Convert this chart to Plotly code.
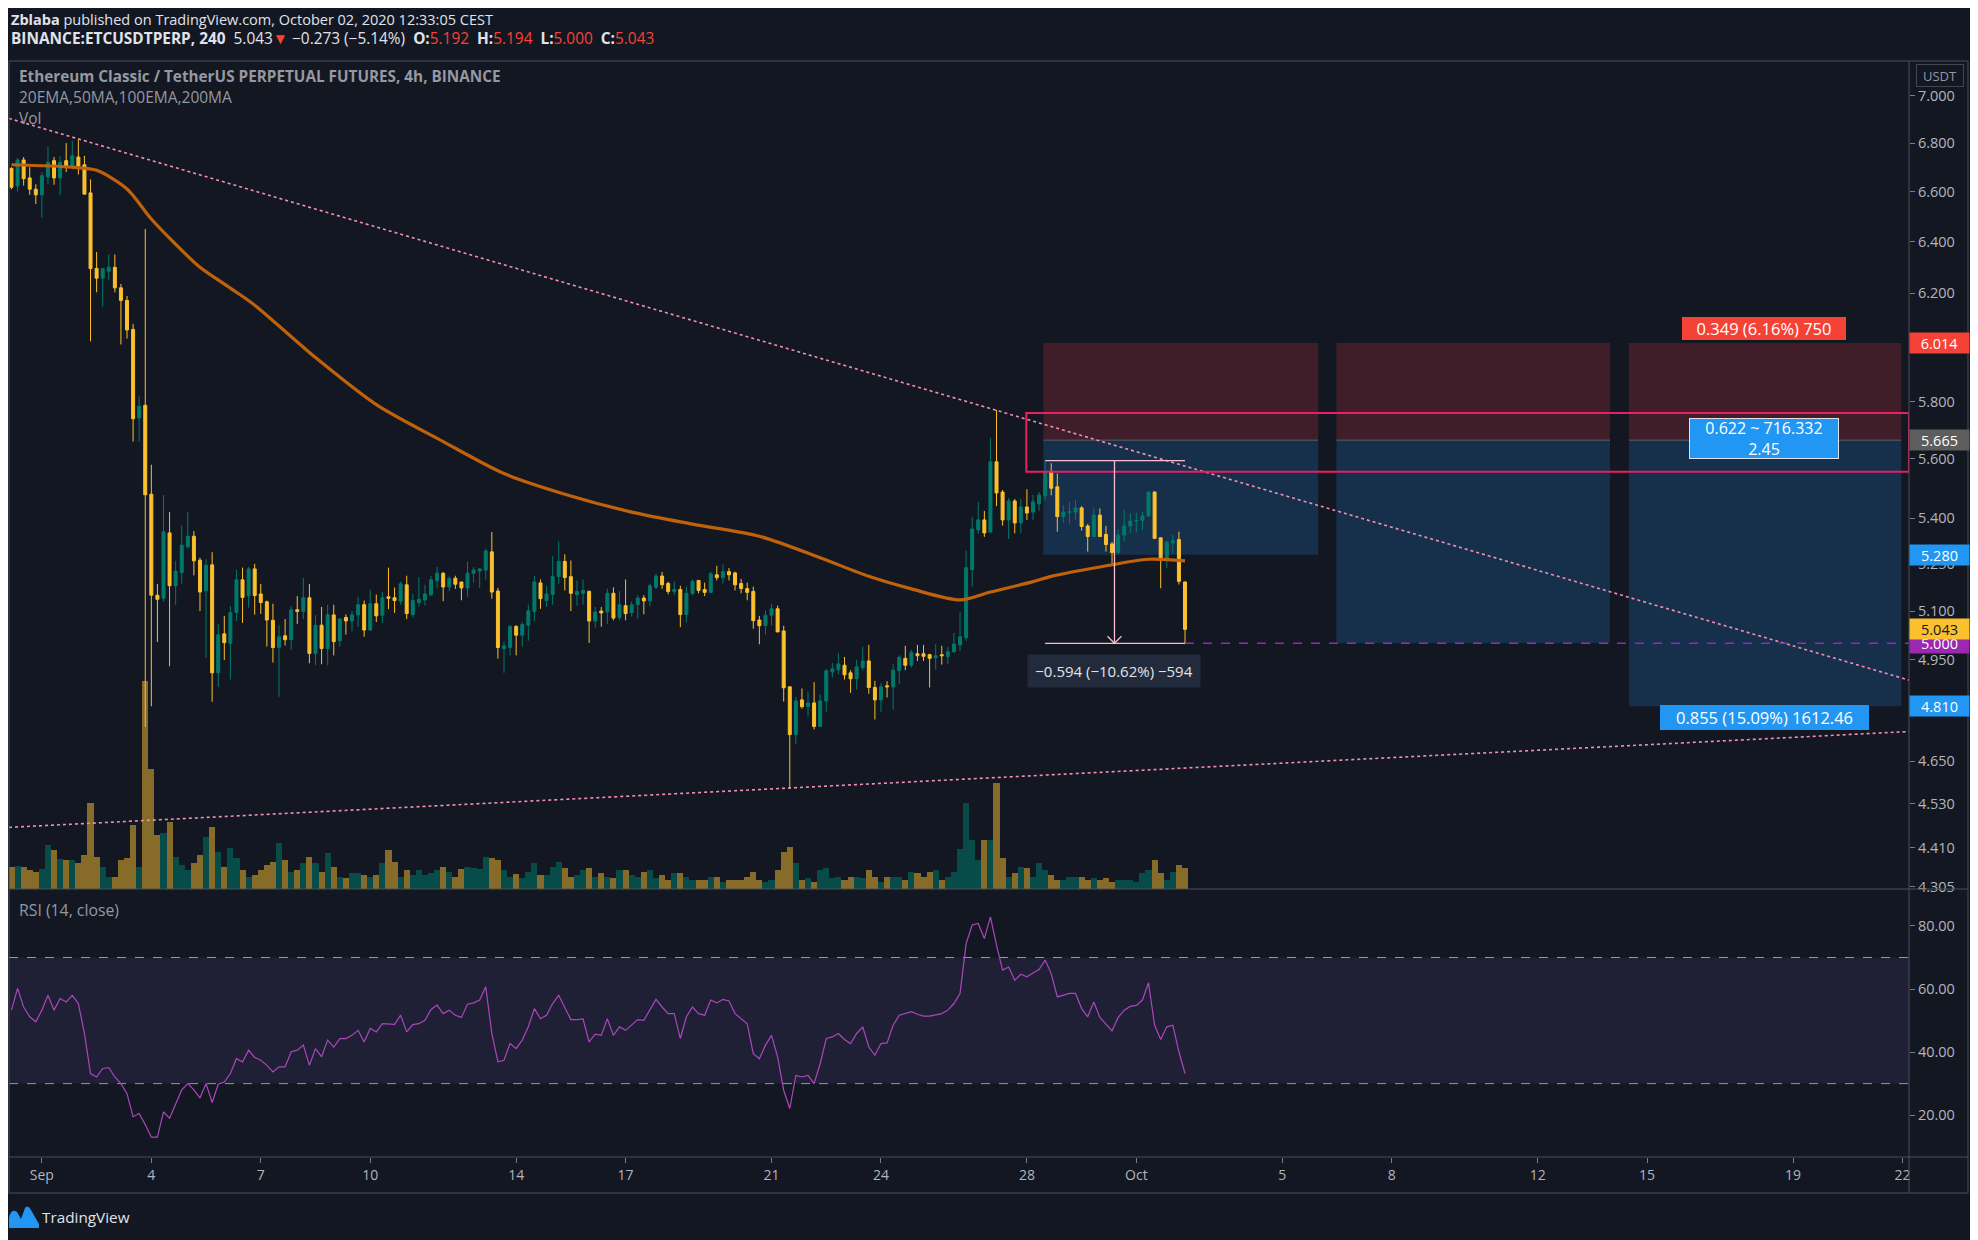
import numpy as np
import pandas as pd
import plotly.graph_objects as go

# ---------------- data ----------------
opens = [6.695,6.623,6.730,6.656,6.610,6.587,6.660,6.727,6.656,6.727,
6.700,6.742,6.710,6.595,6.296,6.258,6.285,6.300,6.221,6.173,
6.064,5.743,5.788,5.480,5.150,5.140,5.351,5.180,5.222,5.306,
5.340,5.262,5.164,5.247,4.910,5.029,5.000,5.096,5.199,5.148,
5.234,5.154,5.129,5.071,4.987,5.023,5.011,5.104,5.099,5.142,
4.969,5.056,4.984,5.088,5.008,5.080,5.069,5.088,5.120,5.041,
5.123,5.087,5.145,5.142,5.131,5.183,5.089,5.127,5.135,5.151,
5.196,5.220,5.176,5.204,5.192,5.173,5.220,5.227,5.230,5.289,
5.163,4.984,4.987,5.052,5.025,5.056,5.099,5.189,5.133,5.152,
5.209,5.258,5.209,5.152,5.156,5.162,5.069,5.100,5.097,5.156,
5.080,5.117,5.095,5.120,5.141,5.132,5.175,5.211,5.187,5.162,
5.168,5.089,5.156,5.197,5.168,5.159,5.215,5.206,5.225,5.221,
5.187,5.171,5.162,5.072,5.055,5.087,5.107,5.038,4.868,4.727,
4.829,4.809,4.820,4.751,4.826,4.913,4.919,4.933,4.910,4.892,
4.926,4.946,4.866,4.829,4.871,4.868,4.916,4.954,4.933,4.968,
4.968,4.965,4.956,4.965,4.959,4.974,4.995,5.017,5.232,5.361,
5.394,5.354,5.590,5.487,5.394,5.457,5.384,5.437,5.420,5.447,
5.474,5.556,5.505,5.405,5.419,5.420,5.434,5.374,5.339,5.410,
5.346,5.315,5.287,5.344,5.374,5.390,5.392,5.407,5.487,5.335,
5.263,5.318,5.329,5.192]
highs = [6.70,6.738,6.742,6.70,6.63,6.68,6.785,6.742,6.745,6.80,
6.81,6.815,6.747,6.65,6.36,6.295,6.35,6.35,6.236,6.19,
6.085,5.82,6.45,5.58,5.186,5.477,5.42,5.26,5.375,5.421,
5.357,5.27,5.265,5.288,5.06,5.085,5.116,5.231,5.238,5.24,
5.25,5.186,5.133,5.123,5.056,5.075,5.115,5.147,5.205,5.186,
5.087,5.113,5.12,5.12,5.078,5.09,5.10,5.145,5.133,5.167,
5.152,5.16,5.238,5.174,5.193,5.212,5.155,5.208,5.183,5.212,
5.24,5.224,5.21,5.212,5.192,5.257,5.24,5.237,5.299,5.354,
5.173,5.005,5.056,5.056,5.065,5.12,5.212,5.20,5.18,5.275,
5.323,5.281,5.261,5.197,5.20,5.165,5.113,5.113,5.171,5.175,
5.163,5.20,5.13,5.15,5.15,5.187,5.218,5.224,5.193,5.193,
5.18,5.177,5.20,5.197,5.19,5.225,5.244,5.248,5.237,5.225,
5.202,5.19,5.177,5.085,5.102,5.123,5.117,5.054,4.868,4.838,
4.863,4.853,4.882,4.846,4.922,4.94,4.969,4.958,4.918,4.95,
4.989,4.995,4.886,4.879,4.885,4.937,4.963,4.992,4.98,4.995,
4.995,4.968,4.998,4.992,4.989,5.032,5.097,5.293,5.404,5.454,
5.424,5.673,5.771,5.494,5.467,5.464,5.464,5.497,5.477,5.487,
5.597,5.585,5.55,5.443,5.454,5.46,5.44,5.38,5.432,5.432,
5.374,5.322,5.363,5.427,5.416,5.418,5.42,5.487,5.49,5.335,
5.326,5.344,5.355,5.194]
lows = [6.61,6.60,6.625,6.587,6.55,6.495,6.63,6.628,6.586,6.68,
6.69,6.67,6.59,6.02,6.204,6.15,6.25,6.204,6.008,6.03,
5.66,5.66,4.75,4.81,5.004,5.13,4.93,5.12,5.187,5.30,
5.213,5.10,4.955,4.823,4.868,4.949,4.89,5.069,5.063,5.111,
5.089,5.091,4.99,4.941,4.838,4.993,4.98,5.06,5.075,4.939,
4.933,4.936,4.933,4.963,4.99,5.027,5.037,5.051,5.02,5.038,
5.066,5.063,5.106,5.094,5.12,5.075,5.08,5.115,5.117,5.149,
5.172,5.131,5.163,5.17,5.134,5.145,5.19,5.173,5.20,5.139,
4.953,4.91,4.963,4.963,4.99,5.008,5.069,5.107,5.113,5.12,
5.186,5.165,5.10,5.117,5.12,5.001,5.048,5.051,5.06,5.071,
5.071,5.071,5.083,5.075,5.09,5.115,5.169,5.17,5.153,5.15,
5.05,5.065,5.15,5.156,5.147,5.156,5.197,5.187,5.197,5.165,
5.156,5.134,5.045,4.997,5.027,5.055,5.035,4.824,4.572,4.70,
4.803,4.78,4.742,4.751,4.794,4.896,4.905,4.89,4.85,4.86,
4.918,4.847,4.771,4.794,4.836,4.80,4.876,4.918,4.926,4.946,
4.946,4.866,4.92,4.935,4.937,4.971,4.976,5.008,5.177,5.348,
5.338,5.351,5.44,5.375,5.331,5.35,5.35,5.394,5.394,5.424,
5.46,5.476,5.355,5.386,5.382,5.394,5.359,5.29,5.339,5.339,
5.29,5.25,5.28,5.322,5.35,5.353,5.36,5.405,5.333,5.172,
5.237,5.284,5.184,5.000]
closes = [6.618,6.730,6.653,6.610,6.587,6.665,6.720,6.656,6.720,6.700,
6.747,6.705,6.590,6.295,6.258,6.295,6.300,6.221,6.173,6.062,
5.740,5.784,5.478,5.150,5.137,5.355,5.180,5.226,5.311,5.340,
5.260,5.160,5.246,4.910,5.026,5.002,5.095,5.199,5.143,5.234,
5.149,5.127,5.072,4.987,5.020,5.011,5.104,5.099,5.142,4.969,
5.056,4.984,5.088,5.005,5.075,5.069,5.088,5.120,5.041,5.123,
5.085,5.142,5.140,5.133,5.186,5.092,5.133,5.137,5.154,5.199,
5.220,5.176,5.204,5.185,5.173,5.220,5.230,5.234,5.292,5.160,
4.987,4.992,5.052,5.025,5.058,5.101,5.192,5.139,5.154,5.209,
5.258,5.206,5.156,5.162,5.165,5.069,5.097,5.094,5.156,5.078,
5.120,5.092,5.120,5.141,5.132,5.180,5.211,5.183,5.162,5.168,
5.089,5.156,5.194,5.165,5.159,5.218,5.206,5.225,5.215,5.183,
5.171,5.159,5.070,5.054,5.087,5.107,5.035,4.865,4.727,4.826,
4.809,4.820,4.751,4.826,4.916,4.922,4.937,4.904,4.892,4.928,
4.946,4.866,4.829,4.868,4.868,4.918,4.957,4.933,4.971,4.962,
4.960,4.954,4.962,4.962,4.974,4.998,5.020,5.238,5.364,5.394,
5.351,5.590,5.484,5.394,5.457,5.384,5.437,5.417,5.454,5.477,
5.555,5.500,5.405,5.420,5.421,5.434,5.372,5.339,5.410,5.339,
5.313,5.287,5.344,5.374,5.390,5.392,5.407,5.487,5.333,5.263,
5.320,5.326,5.194,5.043]
volumes = [21.7,23,21.7,19,17.3,19.7,44,39,29.7,29,
29,25.7,34,86.3,32.3,22.3,11.7,11.7,29,30.7,
64,22.3,208,120,54,55.7,67.3,32.3,24,19,
25.7,34,52.3,62.3,37.3,22.3,40.7,30.7,19,12.3,
14,19,24,27.3,46.3,29,17.3,19,25.7,32.3,
25.7,17.3,35.7,22.3,11.7,10.7,15.7,16.3,14,11.7,
14,25.7,39,27.3,12.3,19,14,19,14,15.7,
19,22.3,17.3,12.3,19.7,21.7,20.7,19.7,32.3,30.7,
29,19,12.3,15,10.7,17.3,25.7,14,14,22.3,
27.3,20.7,12.3,14,19,20.7,12.3,15.7,12.3,10.7,
19,19,14,12.3,17.3,19,10.7,14,9,15.7,
15.7,12.3,9,9,9,12.3,12.3,7.3,9,9,
9,12.3,17.3,9,7.3,9,19,37.3,42.3,25.7,
9,10.7,7.3,19,20.7,10.7,12.3,9,12.3,12.3,
10.7,19,12.3,7.3,12.3,12.3,12.3,9,17.3,15.7,
12.3,17.3,19,9,12.3,17.3,40,85.7,49,29,
49,49,106.3,30.7,12.3,15.7,22.3,20.7,12.3,25.7,
19,14,9,9,12.3,12.3,12.3,9,10.7,9,
10.7,7.3,9,9,9,7.3,15.7,19,29,15.7,
9,17.3,24,20.7]
rsi = [53.3,60.2,54.3,51.2,49.6,53.3,58,53.3,57,55.9,
58,55.4,45.9,33.2,32.1,34.8,35.1,32.1,30,26.8,
19.5,20.5,17,13,13,21,19,23.5,28,30,
28,25.5,30,24,29.8,30.5,33.2,37.9,36.9,40.6,
38.3,37.4,35.8,33.7,35.3,35.3,40.1,40.6,42.2,35.8,
41.1,38.5,43.8,41.6,44.3,44.3,45.3,46.9,43.2,47.5,
46.4,49,49,48.8,51.7,46.4,48.7,49,50.1,53.5,
54.9,52.2,53.3,51.7,51,55.2,55.6,56.5,60.7,45.9,
36.9,37.4,42.7,41.1,43.8,48,53.8,50.6,51.7,55.4,
58,54.3,50.3,50.3,50.5,43.2,45.7,45.3,50.6,45.3,
48,46.9,48.5,50.3,50.1,53.5,56.7,54.3,52.2,52.2,
44.3,51.2,54.3,52.2,51.7,56.5,55.6,56.7,56.2,52.2,
50.6,49,39.5,37.9,42.2,45.3,38.5,27.9,22.1,32.6,
32.1,32.6,30,36.3,44.3,44.8,45.9,44,42.7,45.9,
48,41.6,39,42.7,42.9,48.5,51.7,52.2,52.8,52,
51.4,51.4,51.7,52.2,53.3,55.4,58.6,74.4,80.3,80.8,
76,82.9,73.9,66,67,62.8,64.7,63.9,65.1,66.2,
69.2,64.9,57.5,58,58.6,58.6,53.8,51.2,55.9,51,
49,46.7,51,53.3,54.5,54.8,56.5,62,48.5,44,
48,48.5,40.1,33.2]
ema_idx = [0,10,14,19,23,27,31,36,40,50,60,71,81,91,102,112,123,133,141,148,156,161,168,171,179,187,193]
ema_vals = [6.71,6.70,6.687,6.611,6.49,6.39,6.30,6.22,6.155,5.96,5.79,5.66,5.55,5.48,5.42,5.38,5.34,5.27,5.21,5.17,5.135,5.16,5.193,5.21,5.24,5.265,5.26]

first_bar = "2020-08-31 04:00"
x_range = ["2020-08-31 02:22", "2020-10-22 04:17"]
price_range = [4.299, 7.152]
rsi_range = [6.72, 91.73]
vol_range = [0, 828]

x_tick_dates = ["2020-09-01","2020-09-04","2020-09-07","2020-09-10","2020-09-14","2020-09-17",
                "2020-09-21","2020-09-24","2020-09-28","2020-10-01","2020-10-05","2020-10-08",
                "2020-10-12","2020-10-15","2020-10-19","2020-10-22"]
x_tick_text = ["Sep","4","7","10","14","17","21","24","28","Oct","5","8","12","15","19","22"]
price_ticks = [7.0, 6.8, 6.6, 6.4, 6.2, 5.8, 5.6, 5.4, 5.25, 5.1, 4.95, 4.65, 4.53, 4.41, 4.305]
rsi_ticks = [20, 40, 60, 80]

# drawings (time, price)
trend_down_t = ["2020-08-31 02:22", "2020-10-22 04:17"]
trend_down_p = [6.904, 4.888]
trend_up_t = ["2020-08-31 02:22", "2020-10-22 04:17"]
trend_up_p = [4.465, 4.736]
pos_left = ["2020-09-28 10:48", "2020-10-06 11:36", "2020-10-14 12:00"]
pos_right = ["2020-10-05 23:36", "2020-10-13 23:36", "2020-10-21 23:12"]
pos_entry = 5.665
pos_stop = 6.014
pos_targets = [5.280, 5.000, 4.810]
zone_t = ["2020-09-27 23:36", "2020-10-22 04:17"]
zone_p = [5.556, 5.760]
meas_t = ["2020-09-28 12:00", "2020-10-02 08:00"]
meas_mid_t = "2020-09-30 09:36"
meas_p = [5.594, 5.000]
label_t = "2020-10-18 05:12"

# ---------------- style / geometry (screen pixels) ----------------
BG = "#131722"
UP = "#00796b"
DOWN = "#fbc02d"
GRID = "#4a4e59"
TXT = "#b2b5be"
FONT = "Open Sans"
OFF = 8                       # default page margin around the plot div
SW, SH = 1978, 1240           # screen size
W, H = SW - OFF, SH - OFF     # figure size
PL, PR, PT, PB = 9, 1909, 61, 1157   # plot box in screen pixels
ML, MR, MT, MB = PL - OFF, W - (PR - OFF), PT - OFF, H - (PB - OFF)
PW, PH = PR - PL, PB - PT
SPLIT = 889  # screen row of the pane separator

def px_x(px):
    return (px - PL) / PW

def px_y(py):
    return (PB - py) / PH

lg = np.log10
times = pd.date_range(first_bar, periods=len(closes), freq="4h")
is_up = [c >= o for o, c in zip(opens, closes)]

fig = go.Figure()

fig.add_trace(go.Bar(
    x=times, y=volumes, xaxis="x", yaxis="y",
    marker=dict(color=["rgba(0,121,107,0.55)" if u else "rgba(251,192,45,0.5)" for u in is_up],
                line=dict(width=0)),
    width=4 * 3600 * 1000, showlegend=False, hoverinfo="skip"))

fig.add_trace(go.Candlestick(
    x=times, open=opens, high=highs, low=lows, close=closes, xaxis="x", yaxis="y3",
    increasing=dict(line=dict(color=UP, width=1), fillcolor=UP),
    decreasing=dict(line=dict(color=DOWN, width=1), fillcolor=DOWN),
    whiskerwidth=0, showlegend=False, hoverinfo="skip"))

fig.add_trace(go.Scatter(
    x=times[ema_idx], y=ema_vals, mode="lines", xaxis="x", yaxis="y3",
    line=dict(color="#c0620c", width=3.2, shape="spline", smoothing=0.8),
    showlegend=False, hoverinfo="skip"))

for tt, pp in [(trend_down_t, trend_down_p), (trend_up_t, trend_up_p)]:
    fig.add_trace(go.Scatter(
        x=tt, y=pp, mode="lines", xaxis="x", yaxis="y3",
        line=dict(color="#f48fb1", width=1.6, dash="dot"),
        showlegend=False, hoverinfo="skip"))

fig.add_trace(go.Scatter(
    x=times, y=rsi, mode="lines", xaxis="x", yaxis="y2",
    line=dict(color="#ab47bc", width=1.2), showlegend=False, hoverinfo="skip"))

shapes = []
for x0, x1, tg in zip(pos_left, pos_right, pos_targets):
    shapes.append(dict(type="rect", xref="x", yref="y3", x0=x0, x1=x1,
                       y0=pos_entry, y1=pos_stop, fillcolor="rgba(242,54,69,0.2)",
                       line=dict(width=0), layer="below"))
    shapes.append(dict(type="rect", xref="x", yref="y3", x0=x0, x1=x1,
                       y0=tg, y1=pos_entry, fillcolor="rgba(33,150,243,0.2)",
                       line=dict(width=0), layer="below"))
    shapes.append(dict(type="line", xref="x", yref="y3", x0=x0, x1=x1,
                       y0=pos_entry, y1=pos_entry, line=dict(color="#5d606b", width=1),
                       layer="below"))
shapes.append(dict(type="rect", xref="x", yref="y3", x0=zone_t[0], x1=zone_t[1],
                   y0=zone_p[0], y1=zone_p[1], line=dict(color="#e91e63", width=2),
                   fillcolor="rgba(0,0,0,0)", layer="above"))
for p in meas_p:
    shapes.append(dict(type="line", xref="x", yref="y3", x0=meas_t[0], x1=meas_t[1],
                       y0=p, y1=p, line=dict(color="#f8bbd0", width=1.3), layer="above"))
shapes.append(dict(type="line", xref="x", yref="y3", x0=meas_mid_t, x1=meas_mid_t,
                   y0=meas_p[0], y1=meas_p[1], line=dict(color="#f8bbd0", width=1.3),
                   layer="above"))
shapes.append(dict(type="path", xref="x", yref="y3", xsizemode="pixel", ysizemode="pixel",
                   xanchor=meas_mid_t, yanchor=meas_p[1],
                   path="M -7,7 L 0,0 L 7,7", line=dict(color="#f8bbd0", width=1.3), layer="above"))
shapes.append(dict(type="line", xref="x", yref="y3", x0=meas_t[1], x1=x_range[1],
                   y0=meas_p[1], y1=meas_p[1], line=dict(color="#9c27b0", width=1.6, dash="dash"),
                   layer="above"))
shapes.append(dict(type="rect", xref="paper", yref="y2", x0=0, x1=1, y0=30, y1=70,
                   fillcolor="rgba(126,87,194,0.12)", line=dict(width=0), layer="below"))
for lv in (30, 70):
    shapes.append(dict(type="line", xref="paper", yref="y2", x0=0, x1=1, y0=lv, y1=lv,
                       line=dict(color="#9598a1", width=1, dash="dash"), layer="below"))

def hline(py, x0=PL, x1=1968):
    return dict(type="line", xref="paper", yref="paper", x0=px_x(x0), x1=px_x(x1),
                y0=px_y(py), y1=px_y(py), line=dict(color=GRID, width=1), layer="above")

def vline(px, y0=PT, y1=1193):
    return dict(type="line", xref="paper", yref="paper", x0=px_x(px), x1=px_x(px),
                y0=px_y(y0), y1=px_y(y1), line=dict(color=GRID, width=1), layer="above")

shapes += [hline(PT), hline(SPLIT), hline(PB), hline(1193),
           vline(PL), vline(PR), vline(1968)]
shapes.append(dict(type="path", xref="paper", yref="paper", xsizemode="pixel", ysizemode="pixel",
                   xanchor=px_x(9), yanchor=px_y(1228),
                   path="M0,0 L0,10 Q2,20 8,16 L12,9 L16,20 Q19,24 22,18 L30,4 L30,0 Z",
                   fillcolor="#2196f3", line=dict(width=0)))

ann = []
def txt(px, py, text, size=14, color=TXT, xanchor="left"):
    ann.append(dict(xref="paper", yref="paper", x=px_x(px), y=px_y(py), text=text,
                    showarrow=False, xanchor=xanchor, yanchor="middle",
                    font=dict(family=FONT, size=size, color=color)))

RED = "#f44336"
txt(9, 19, "<b>Zblaba</b> published on TradingView.com, October 02, 2020 12:33:05 CEST",
    size=14.5, color="#e0e3eb")
txt(9, 39, "<b>BINANCE:ETCUSDTPERP, 240</b>  5.043<span style='color:%s'>▼</span> −0.273 (−5.14%%)  "
           "<b>O:</b><span style='color:%s'>5.192</span>  <b>H:</b><span style='color:%s'>5.194</span>  "
           "<b>L:</b><span style='color:%s'>5.000</span>  <b>C:</b><span style='color:%s'>5.043</span>"
           % (RED, RED, RED, RED, RED), size=15.4, color="#e0e3eb")
txt(17, 76, "<b>Ethereum Classic / TetherUS PERPETUAL FUTURES, 4h, BINANCE</b>", size=15.3, color="#9598a1")
txt(17, 97, "20EMA,50MA,100EMA,200MA", size=15.5, color="#9598a1")
txt(17, 118, "Vol", size=15.5, color="#9598a1")
txt(17, 910, "RSI (14, close)", size=15.8, color="#9598a1")
txt(40, 1217, "TradingView", size=15.3, color="#e0e3eb")

def box_label(t, price, text, bg, w, h, border=None, size=16.5):
    ann.append(dict(xref="x", yref="y3", x=t, y=lg(price), text=text, showarrow=False,
                    xanchor="center", yanchor="middle", width=w, height=h,
                    bgcolor=bg, bordercolor=border or bg, borderwidth=1, borderpad=0,
                    font=dict(family=FONT, size=size, color="#ffffff")))

box_label(label_t, 6.068, "0.349 (6.16%) 750", RED, 162, 21)
box_label(label_t, 5.670, "0.622 ~ 716.332<br>2.45", "#2196f3", 148, 39, border="#e0e3eb", size=16)
box_label(label_t, 4.776, "0.855 (15.09%) 1612.46", "#2196f3", 207, 23)
ann.append(dict(xref="x", yref="y3", x=meas_mid_t, y=lg(4.917), text="−0.594 (−10.62%) −594",
                showarrow=False, xanchor="center", yanchor="middle", width=170, height=30,
                bgcolor="#212b3b", font=dict(family=FONT, size=15, color="#e0e3eb")))

axis_tags = [(6.014, RED, "#ffffff"), (5.665, "#5d5d5d", "#ffffff"), (5.280, "#2196f3", "#ffffff"),
             (5.000, "#9c27b0", "#ffffff"), (5.043, "#fbc02d", "#131722"), (4.810, "#2196f3", "#ffffff")]
for p, bg, fc in axis_tags:
    ann.append(dict(xref="paper", yref="y3", x=1, y=lg(p), text="%.3f" % p, showarrow=False,
                    xanchor="left", yanchor="middle", width=59, height=20, bgcolor=bg,
                    borderpad=0, font=dict(family=FONT, size=14.5, color=fc)))
ann.append(dict(xref="paper", yref="paper", x=px_x(1940), y=px_y(75), text="USDT", showarrow=False,
                xanchor="center", yanchor="middle", width=44, height=19, bordercolor="#434651",
                borderwidth=1, font=dict(family=FONT, size=13, color="#9598a1")))

fig.update_layout(
    width=W, height=H, paper_bgcolor=BG, plot_bgcolor=BG,
    margin=dict(l=ML, r=MR, t=MT, b=MB), showlegend=False, bargap=0,
    font=dict(family=FONT, color=TXT),
    xaxis=dict(type="date", range=x_range, anchor="y2", domain=[0, 1],
               tickvals=x_tick_dates, ticktext=x_tick_text, ticks="outside", ticklen=5,
               tickcolor="#787b86", tickfont=dict(size=14, color=TXT),
               showgrid=False, zeroline=False, showline=False, rangeslider=dict(visible=False)),
    yaxis=dict(domain=[px_y(SPLIT), 1], range=vol_range, visible=False, showgrid=False,
               zeroline=False, anchor="x"),
    yaxis3=dict(type="log", overlaying="y", side="right", anchor="x",
                range=[lg(price_range[0]), lg(price_range[1])],
                tickvals=price_ticks, ticktext=["%.3f" % v for v in price_ticks],
                ticks="outside", ticklen=5, tickcolor="#787b86", tickfont=dict(size=14.5, color=TXT),
                showgrid=False, zeroline=False, showline=False),
    yaxis2=dict(domain=[0, px_y(SPLIT)], range=rsi_range, side="right", anchor="x",
                tickvals=rsi_ticks, ticktext=["%.2f" % v for v in rsi_ticks],
                ticks="outside", ticklen=5, tickcolor="#787b86", tickfont=dict(size=14.5, color=TXT),
                showgrid=False, zeroline=False, showline=False),
    shapes=shapes, annotations=ann,
)

fig.write_html("out.html")
